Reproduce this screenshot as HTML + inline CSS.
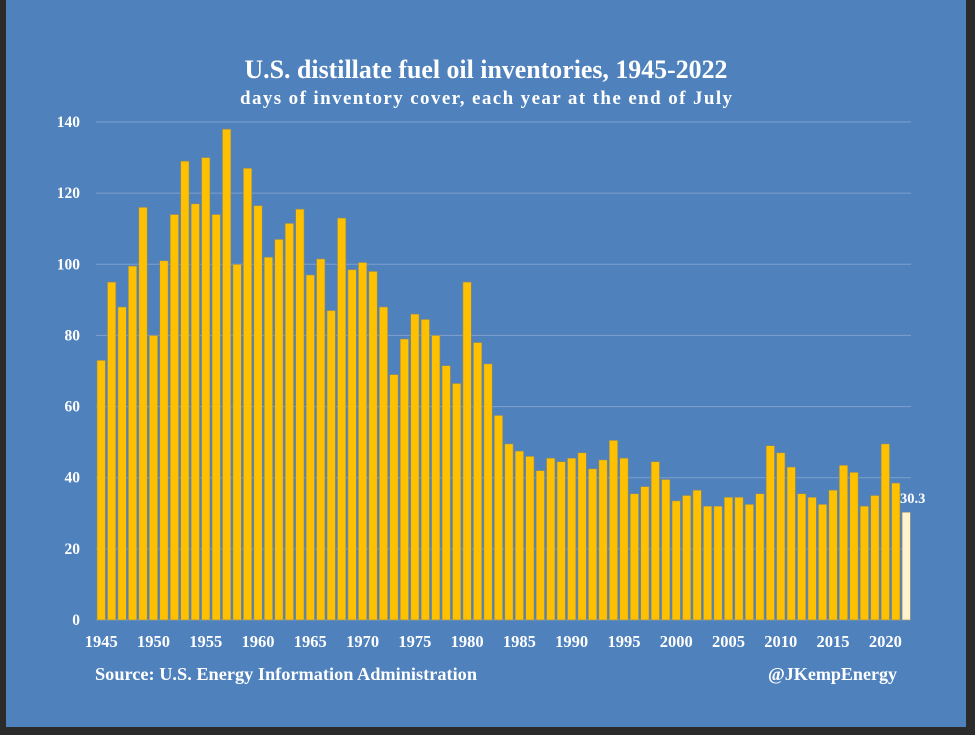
<!DOCTYPE html>
<html><head><meta charset="utf-8"><style>
body{margin:0;background:#2b2b2b;width:975px;height:735px;overflow:hidden}
svg{position:absolute;left:0;top:0}
text{font-family:"Liberation Serif",serif;fill:#fff;font-weight:bold}
</style></head><body>
<svg width="975" height="735">
<rect x="6" y="0" width="960" height="727" fill="#4f81bd"/>
<text x="486" y="78" text-anchor="middle" font-size="26" textLength="483" lengthAdjust="spacingAndGlyphs">U.S. distillate fuel oil inventories, 1945-2022</text>
<text x="486" y="104" text-anchor="middle" font-size="19" textLength="492" lengthAdjust="spacing">days of inventory cover, each year at the end of July</text>
<g id="grid"></g><g id="bars"></g><g id="axes"></g>
<text x="95" y="680" font-size="17.5" textLength="382" lengthAdjust="spacingAndGlyphs">Source: U.S. Energy Information Administration</text>
<text x="768" y="680" font-size="17.5" textLength="129" lengthAdjust="spacingAndGlyphs">@JKempEnergy</text>
</svg>
<script>
const years=[];for(let y=1945;y<=2022;y++)years.push(y);
const values=[73,95,88,99.5,116,80,101,114,129,117,130,114,138,100,127,116.5,102,107,111.5,115.5,97,101.5,87,113,98.5,100.5,98,88,69,79,86,84.5,80,71.5,66.5,95,78,72,57.5,49.5,47.5,46,42,45.5,44.5,45.5,47,42.5,45,50.5,45.5,35.5,37.5,44.5,39.5,33.5,35,36.5,32,32,34.5,34.5,32.5,35.5,49,47,43,35.5,34.5,32.5,36.5,43.5,41.5,32,35,49.5,38.5,30.3];
const yTicks=[0,20,40,60,80,100,120,140];
const xTickYears=[1945,1950,1955,1960,1965,1970,1975,1980,1985,1990,1995,2000,2005,2010,2015,2020];
const NS='http://www.w3.org/2000/svg';
const x0=97,pitch=10.455,bw=8.4,yb=620,yt=122,ymax=140;
const yS=v=>yb-(v/ymax)*(yb-yt);
const xS=y=>x0+(y-1945)*pitch;
function mk(t,a,p){const e=document.createElementNS(NS,t);for(const k in a)e.setAttribute(k,a[k]);p.appendChild(e);return e;}
const grid=document.getElementById('grid'),bars=document.getElementById('bars'),axes=document.getElementById('axes');
yTicks.forEach(v=>{
 const l=mk('line',{x1:96,x2:911,y1:yS(v),y2:yS(v),stroke:'#7fa0cc','stroke-width':1},grid);
 
 
 const t=mk('text',{x:80,y:yS(v)+5,'text-anchor':'end','font-size':15.5},axes);t.textContent=v;
 
 
});
values.forEach((v,i)=>{
 const yr=years[i];const last=i===values.length-1;
 const r=mk('rect',{x:xS(yr),y:yS(v),width:bw,height:yb-yS(v),fill:last?'#fff2cc':'#ffc000',stroke:'#8a8a6a','stroke-width':0.6},bars);
 
 
 if(last){const t=mk('text',{x:xS(yr)-2,y:yS(v)-9,'font-size':14.5},axes);t.textContent=v;
 
 }
});
xTickYears.forEach(yr=>{
 const t=mk('text',{x:xS(yr)+bw/2,y:647,'text-anchor':'middle','font-size':16.5},axes);t.textContent=yr;
 
 
});
</script>
</body></html>
